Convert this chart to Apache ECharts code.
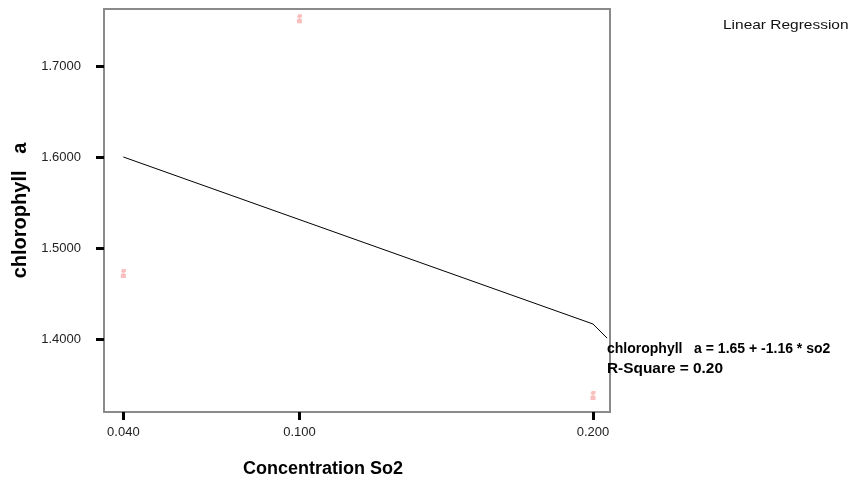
<!DOCTYPE html>
<html>
<head>
<meta charset="utf-8">
<script src="https://cdn.jsdelivr.net/npm/echarts@6/dist/echarts.min.js"></script>
<style>
  html, body { margin: 0; padding: 0; background: #fff; }
  #chart { width: 857px; height: 484px; }
</style>
</head>
<body>
<div id="chart"></div>
<script>
// observed points (so2 concentration, chlorophyll a)
var so2 = [0.04, 0.1, 0.2];
var chlA = [1.472, 1.752, 1.338];

// fitted line as drawn by the original (ends with a short kink)
var fitX = [0.04, 0.2, 0.2048];
var fitY = [1.6, 1.4165, 1.401];

var xTicks = [0.04, 0.1, 0.2];
var yTicks = [1.4, 1.5, 1.6, 1.7];

var myChart = echarts.init(document.getElementById('chart'));

var points = [];
for (var i = 0; i < so2.length; i++) {
  points.push([so2[i], chlA[i]]);
}
var fit = [];
for (var j = 0; j < fitX.length; j++) {
  fit.push([fitX[j], fitY[j]]);
}

var font = 'Liberation Sans, Arial, sans-serif';

var option = {
  animation: false,
  grid: {
    left: 104,
    top: 9,
    right: 247,
    bottom: 72,
    show: true,
    borderColor: '#8a8a8a',
    borderWidth: 2,
    backgroundColor: '#fff'
  },
  xAxis: {
    type: 'value',
    min: 0.0334,
    max: 0.2058,
    name: 'Concentration So2',
    nameLocation: 'middle',
    nameGap: 48,
    nameTextStyle: { fontFamily: font, fontSize: 18, fontWeight: 'bold', color: '#000', padding: [0, 68, 0, 0] },
    axisLine: { show: false },
    splitLine: { show: false },
    axisLabel: {
      fontFamily: font, fontSize: 13, color: '#222', margin: 14,
      customValues: xTicks,
      formatter: function (v) { return v.toFixed(3); }
    },
    axisTick: { show: true, length: 8, customValues: xTicks, lineStyle: { color: '#000', width: 3 } }
  },
  yAxis: {
    type: 'value',
    min: 1.3198,
    max: 1.7626,
    name: 'chlorophyll   a',
    nameLocation: 'middle',
    nameGap: 74,
    nameRotate: 90,
    nameTextStyle: { fontFamily: font, fontSize: 20, fontWeight: 'bold', color: '#000' },
    axisLine: { show: false },
    splitLine: { show: false },
    axisLabel: {
      fontFamily: font, fontSize: 13, color: '#222', margin: 23,
      customValues: yTicks,
      formatter: function (v) { return v.toFixed(4); }
    },
    axisTick: { show: true, length: 8, customValues: yTicks, lineStyle: { color: '#000', width: 3 } }
  },
  graphic: [
    {
      type: 'text', x: 723, y: 19, scaleX: 1.19,
      style: { text: 'Linear Regression', fontFamily: font, fontSize: 13, fill: '#111' }
    },
    {
      type: 'text', x: 607, y: 342,
      style: { text: 'chlorophyll   a = 1.65 + -1.16 * so2', fontFamily: font, fontSize: 14, fontWeight: 'bold', fill: '#000' }
    },
    {
      type: 'text', x: 607, y: 362, scaleX: 1.1,
      style: { text: 'R-Square = 0.20', fontFamily: font, fontSize: 14, fontWeight: 'bold', fill: '#000' }
    }
  ],
  series: [
    {
      type: 'line',
      data: fit,
      showSymbol: false,
      symbol: 'none',
      lineStyle: { color: '#000', width: 1 },
      z: 3
    },
    {
      type: 'scatter',
      data: points,
      symbol: 'path://M1,0 L4,0 L4,3 L2,4 L4,5 L4,9 L0,9 L0,5 L2,4 L0,3 Z',
      symbolSize: [5, 9],
      itemStyle: { color: '#f8b4b4', opacity: 0.85 },
      z: 4
    }
  ]
};

myChart.setOption(option);
</script>
</body>
</html>
